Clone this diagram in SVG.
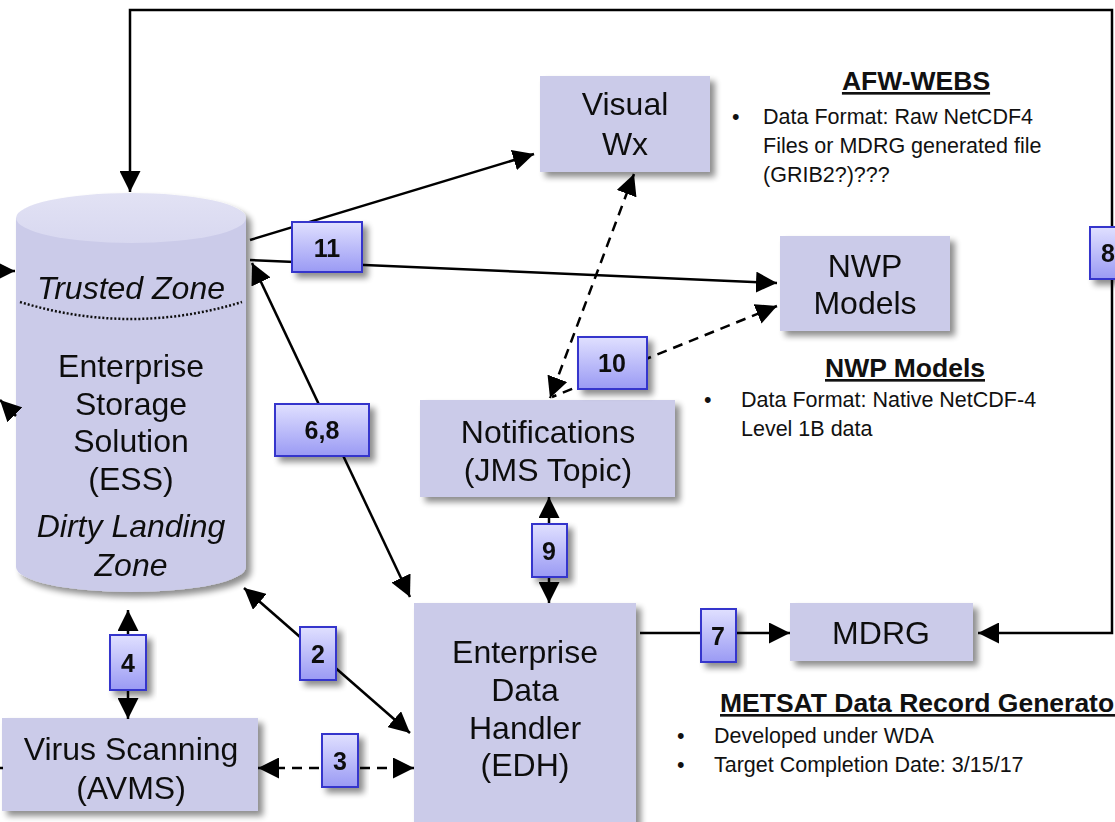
<svg xmlns="http://www.w3.org/2000/svg" width="1115" height="822" viewBox="0 0 1115 822">
  <style>
    .node { fill: #cbcbe9; }
    .lbl { font-family: "Liberation Sans", Arial, sans-serif; font-size: 32px; fill: #111; text-anchor: middle; }
    .it { font-style: italic; }
    .badge rect { fill: url(#badgeGrad); stroke: #3535cc; stroke-width: 2; }
    .badge text { font-family: "Liberation Sans", Arial, sans-serif; font-size: 25px; font-weight: bold; fill: #111; text-anchor: middle; }
    .wire { fill: none; stroke: #000; stroke-width: 2.5; }
    .dash { stroke-dasharray: 10 7; }
    .note { font-family: "Liberation Sans", Arial, sans-serif; font-size: 21.5px; fill: #111; }
    .head { font-weight: bold; font-size: 26.5px; text-decoration: underline; }
  </style>
  <defs>
    <linearGradient id="badgeGrad" x1="0" y1="0" x2="0" y2="1">
      <stop offset="0" stop-color="#e0e0ff"/>
      <stop offset="1" stop-color="#9a9af4"/>
    </linearGradient>
    <linearGradient id="cylTop" x1="0" y1="0" x2="0" y2="1">
      <stop offset="0" stop-color="#e2e2f4"/>
      <stop offset="1" stop-color="#d8d8f0"/>
    </linearGradient>
    <filter id="shadow" x="-20%" y="-20%" width="150%" height="150%">
      <feGaussianBlur in="SourceAlpha" stdDeviation="3"/>
      <feOffset dx="5" dy="5" result="b"/>
      <feComponentTransfer><feFuncA type="linear" slope="0.45"/></feComponentTransfer>
      <feMerge><feMergeNode/><feMergeNode in="SourceGraphic"/></feMerge>
    </filter>
    <marker id="arr" viewBox="0 0 10 10" refX="10" refY="5" markerUnits="userSpaceOnUse" markerWidth="21" markerHeight="21" orient="auto-start-reverse">
      <path d="M0,0 L10,5 L0,10 z" fill="#000"/>
    </marker>
  </defs>

  <!-- Storage cylinder -->
  <g id="ess" filter="url(#shadow)">
    <path class="node" d="M16,218 L16,567 A115,25 0 0 0 246,567 L246,218 Z"/>
    <ellipse cx="131" cy="218" rx="115" ry="25" fill="url(#cylTop)"/>
    <path d="M20,302 Q131,336 242,302" fill="none" stroke="#111" stroke-width="2.5" stroke-dasharray="2 2"/>
    <text class="lbl it" x="131" y="299">Trusted Zone</text>
    <text class="lbl" x="131" y="377">Enterprise</text>
    <text class="lbl" x="131" y="415">Storage</text>
    <text class="lbl" x="131" y="452">Solution</text>
    <text class="lbl" x="131" y="490">(ESS)</text>
    <text class="lbl it" x="131" y="537">Dirty Landing</text>
    <text class="lbl it" x="131" y="576">Zone</text>
  </g>

  <g id="visualwx" filter="url(#shadow)">
    <rect class="node" x="540" y="76" width="170" height="96"/>
    <text class="lbl" x="625" y="115">Visual</text>
    <text class="lbl" x="625" y="155">Wx</text>
  </g>

  <g id="nwp" filter="url(#shadow)">
    <rect class="node" x="780" y="236" width="170" height="95"/>
    <text class="lbl" x="865" y="277">NWP</text>
    <text class="lbl" x="865" y="314">Models</text>
  </g>

  <g id="notifications" filter="url(#shadow)">
    <rect class="node" x="420" y="400" width="255" height="97"/>
    <text class="lbl" x="548" y="443">Notifications</text>
    <text class="lbl" x="548" y="481">(JMS Topic)</text>
  </g>

  <g id="edh" filter="url(#shadow)">
    <rect class="node" x="414" y="603" width="222" height="225"/>
    <text class="lbl" x="525" y="663">Enterprise</text>
    <text class="lbl" x="525" y="701">Data</text>
    <text class="lbl" x="525" y="739">Handler</text>
    <text class="lbl" x="525" y="776">(EDH)</text>
  </g>

  <g id="mdrg" filter="url(#shadow)">
    <rect class="node" x="790" y="603" width="183" height="58"/>
    <text class="lbl" x="881" y="644">MDRG</text>
  </g>

  <g id="avms" filter="url(#shadow)">
    <rect class="node" x="2" y="718" width="256" height="93"/>
    <text class="lbl" x="131" y="760">Virus Scanning</text>
    <text class="lbl" x="131" y="799">(AVMS)</text>
  </g>

  <!-- Connectors -->
  <g id="connectors">
    <polyline class="wire" points="978,633 1112,633 1112,10 130,10 130,192" marker-start="url(#arr)" marker-end="url(#arr)"/>
    <line class="wire" x1="250" y1="240" x2="534" y2="154" marker-end="url(#arr)"/>
    <line class="wire" x1="250" y1="260" x2="777" y2="283" marker-end="url(#arr)"/>
    <line class="wire" x1="252" y1="263" x2="410" y2="597" marker-start="url(#arr)" marker-end="url(#arr)"/>
    <line class="wire" x1="244" y1="588" x2="410" y2="733" marker-start="url(#arr)" marker-end="url(#arr)"/>
    <line class="wire" x1="128" y1="610" x2="128" y2="719" marker-start="url(#arr)" marker-end="url(#arr)"/>
    <line class="wire dash" x1="258" y1="768" x2="414" y2="768" marker-start="url(#arr)" marker-end="url(#arr)"/>
    <line class="wire" x1="549" y1="497" x2="549" y2="603" marker-start="url(#arr)" marker-end="url(#arr)"/>
    <line class="wire" x1="640" y1="633" x2="790" y2="633" marker-end="url(#arr)"/>
    <line class="wire dash" x1="634" y1="174" x2="550" y2="398" marker-start="url(#arr)" marker-end="url(#arr)"/>
    <line class="wire dash" x1="777" y1="306" x2="552" y2="397" marker-start="url(#arr)"/>
    <line class="wire" x1="0" y1="271" x2="15" y2="271" marker-end="url(#arr)"/>
    <line class="wire" x1="16" y1="416" x2="0" y2="400" marker-end="url(#arr)"/>
    <line class="wire dash" x1="0" y1="768" x2="3" y2="768"/>
  </g>

  <!-- Step badges -->
  <g id="badge-11" class="badge" filter="url(#shadow)"><rect x="292" y="222" width="70" height="50"/><text x="327" y="257">11</text></g>
  <g id="badge-8" class="badge" filter="url(#shadow)"><rect x="1090" y="227" width="36" height="52"/><text x="1108" y="262">8</text></g>
  <g id="badge-10" class="badge" filter="url(#shadow)"><rect x="578" y="337" width="69" height="52"/><text x="612" y="372">10</text></g>
  <g id="badge-68" class="badge" filter="url(#shadow)"><rect x="275" y="404" width="94" height="52"/><text x="322" y="439">6,8</text></g>
  <g id="badge-9" class="badge" filter="url(#shadow)"><rect x="532" y="524" width="35" height="53"/><text x="549" y="560">9</text></g>
  <g id="badge-2" class="badge" filter="url(#shadow)"><rect x="300" y="627" width="36" height="53"/><text x="318" y="663">2</text></g>
  <g id="badge-7" class="badge" filter="url(#shadow)"><rect x="701" y="609" width="35" height="53"/><text x="718" y="645">7</text></g>
  <g id="badge-4" class="badge" filter="url(#shadow)"><rect x="110" y="635" width="36" height="55"/><text x="128" y="672">4</text></g>
  <g id="badge-3" class="badge" filter="url(#shadow)"><rect x="322" y="734" width="36" height="53"/><text x="340" y="770">3</text></g>

  <!-- Side notes -->
  <g id="note-afw">
    <text class="note head" x="916" y="90" text-anchor="middle">AFW-WEBS</text>
    <text class="note" x="732" y="124">•</text>
    <text class="note" x="763" y="124">Data Format: Raw NetCDF4</text>
    <text class="note" x="763" y="153">Files or MDRG generated file</text>
    <text class="note" x="763" y="182">(GRIB2?)???</text>
  </g>
  <g id="note-nwp">
    <text class="note head" x="905" y="377" text-anchor="middle">NWP Models</text>
    <text class="note" x="704" y="407">•</text>
    <text class="note" x="741" y="407">Data Format: Native NetCDF-4</text>
    <text class="note" x="741" y="436">Level 1B data</text>
  </g>
  <g id="note-metsat">
    <text class="note head" x="720" y="712">METSAT Data Record Generator</text>
    <text class="note" x="677" y="743">•</text>
    <text class="note" x="714" y="743">Developed under WDA</text>
    <text class="note" x="677" y="772">•</text>
    <text class="note" x="714" y="772">Target Completion Date: 3/15/17</text>
  </g>
</svg>
